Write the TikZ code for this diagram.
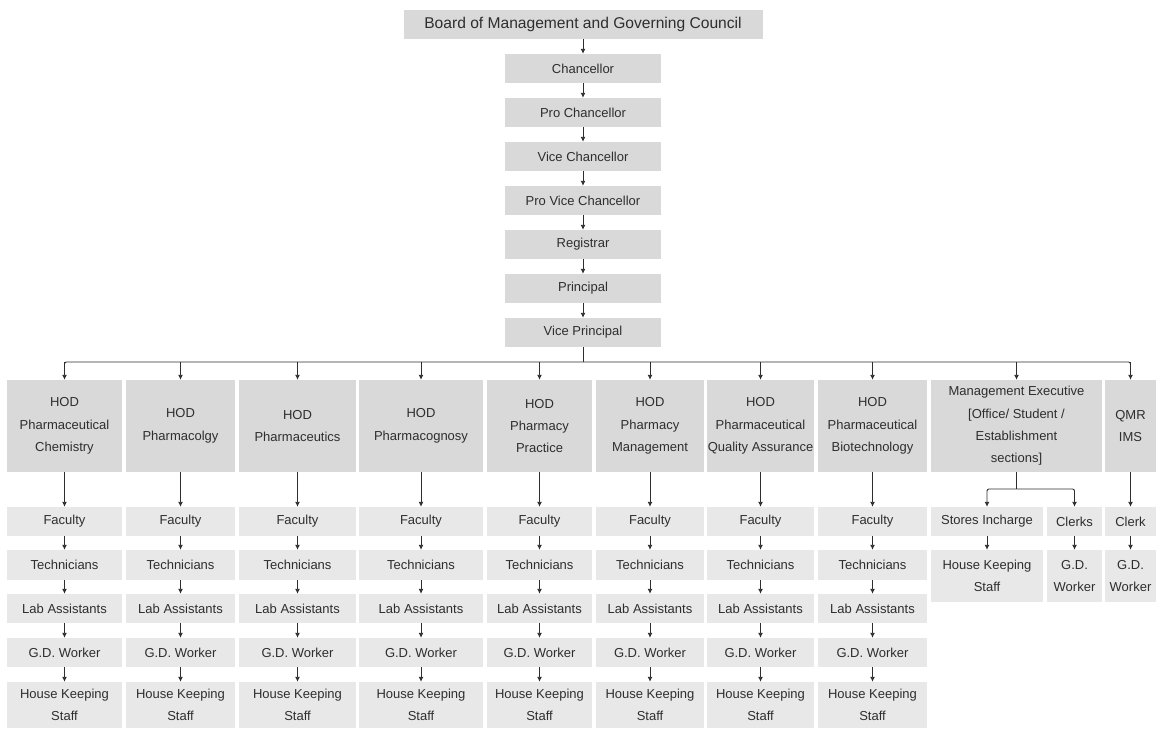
\documentclass[tikz,border=0pt]{standalone}
\usepackage{fontspec}
\setmainfont{Liberation Sans}
\usetikzlibrary{arrows.meta}
\definecolor{boxdark}{HTML}{D9D9D9}
\definecolor{boxlight}{HTML}{E8E8E8}
\definecolor{ink}{HTML}{2E2E2E}
\tikzset{
  dk/.style={fill=boxdark,text=ink,align=center,inner sep=1pt,font=\fontsize{13}{22.4}\selectfont},
  lt/.style={fill=boxlight,text=ink,align=center,inner sep=1pt,font=\fontsize{13}{22.4}\selectfont},
  link/.style={draw=ink,line width=0.9pt},
  arr/.style={link,-{Latex[length=5pt,width=5pt]}}
}
\begin{document}
\begin{tikzpicture}[x=1pt,y=-1pt]
\useasboundingbox (0,0) rectangle (1156,728);
\node[dk,minimum width=359,minimum height=29,font=\fontsize{15.6}{18}\selectfont] (board) at (583,24.5) {Board of Management and Governing Council};
\foreach \t [count=\i] in {Chancellor,Pro Chancellor,Vice Chancellor,Pro Vice Chancellor,Registrar,Principal,Vice Principal}
  \node[dk,minimum width=156,minimum height=29] (c\i) at (583,24.5+44*\i) {\t};
\draw[arr] (board) -- (c1);
\foreach \i [evaluate=\i as \j using int(\i+1)] in {1,...,6}
  \draw[arr] (c\i) -- (c\j);
\foreach \x/\w/\t [count=\n] in {64.5/115/{HOD\\Pharmaceutical\\Chemistry},180.5/109/{HOD\\Pharmacolgy},
    297.5/117/{HOD\\Pharmaceutics},421/124/{HOD\\Pharmacognosy},539.5/105/{HOD\\Pharmacy\\Practice},
    650/108/{HOD\\Pharmacy\\Management},760.5/107/{HOD\\Pharmaceutical\\Quality Assurance},
    872.5/109/{HOD\\Pharmaceutical\\Biotechnology},1016.5/171/{Management Executive\\{[Office/ Student /}\\Establishment\\sections]},
    1130.5/51/{QMR\\IMS}}
  \node[dk,minimum width=\w,minimum height=92] (h\n) at (\x,426) {\t};
\coordinate (bus) at (583,362);
\draw[link] (c7) -- (bus);
\draw[link,rounded corners=2] (h1.north |- 0,370) |- (bus) -| (h10.north |- 0,370);
\foreach \n in {1,...,10}
  \draw[arr] (h\n.north |- bus) -- (h\n.north);
\foreach \x/\w [count=\n] in {64.5/115,180.5/109,297.5/117,421/124,539.5/105,650/108,760.5/107,872.5/109} {
  \node[lt,minimum width=\w,minimum height=29] (f\n) at (\x,521.5) {Faculty};
  \node[lt,minimum width=\w,minimum height=30] (t\n) at (\x,565) {Technicians};
  \node[lt,minimum width=\w,minimum height=29] (l\n) at (\x,608.5) {Lab Assistants};
  \node[lt,minimum width=\w,minimum height=29] (g\n) at (\x,652.5) {G.D. Worker};
  \node[lt,minimum width=\w,minimum height=46] (k\n) at (\x,705) {House Keeping\\Staff};
  \draw[arr] (h\n) -- (f\n);
  \draw[arr] (f\n) -- (t\n);
  \draw[arr] (t\n) -- (l\n);
  \draw[arr] (l\n) -- (g\n);
  \draw[arr] (g\n) -- (k\n);
}
\node[lt,minimum width=112,minimum height=29] (s1) at (987,521.5) {Stores Incharge};
\node[lt,minimum width=55,minimum height=29] (s2) at (1074.5,521.5) {Clerks};
\node[lt,minimum width=112,minimum height=52] (s3) at (987,576) {House Keeping\\Staff};
\node[lt,minimum width=55,minimum height=52] (s4) at (1074.5,576) {G.D.\\Worker};
\node[lt,minimum width=51,minimum height=29] (q1) at (1130.5,521.5) {Clerk};
\node[lt,minimum width=51,minimum height=52] (q2) at (1130.5,576) {G.D.\\Worker};
\coordinate (split) at (1016.5,489);
\draw[link] (h9) -- (split);
\draw[arr,rounded corners=2] (split) -| (s1.north);
\draw[arr,rounded corners=2] (split) -| (s2.north);
\draw[arr] (s1) -- (s3);
\draw[arr] (s2) -- (s4);
\draw[arr] (h10) -- (q1);
\draw[arr] (q1) -- (q2);
\end{tikzpicture}
\end{document}
